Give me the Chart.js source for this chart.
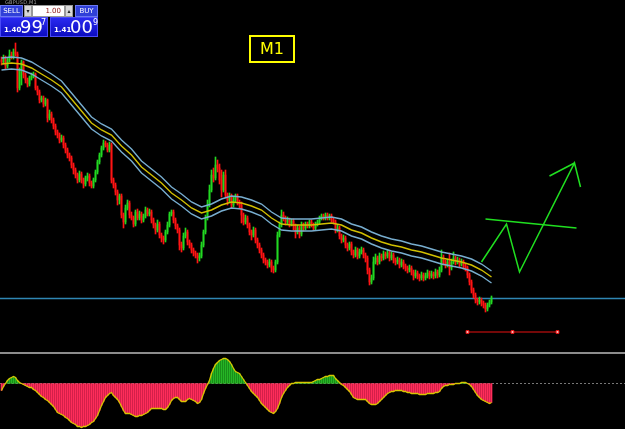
<!DOCTYPE html>
<html><head><meta charset="utf-8">
<script src="https://cdn.jsdelivr.net/npm/chart.js@4/dist/chart.umd.min.js"></script>
<style>
html,body{margin:0;padding:0;background:#000;width:625px;height:429px;overflow:hidden;font-family:"DejaVu Sans",Arial,sans-serif}
#main{position:absolute;left:0;top:0}
#osc{position:absolute;left:0;top:354px}
#sep{position:absolute;left:0;top:352px;width:625px;height:2px;background:#8c8c8c}
#hdr{position:absolute;left:5px;top:-1px;font-size:5px;color:#9a9a9a;letter-spacing:0.2px}
.p{position:absolute;box-sizing:border-box;color:#fff}
.btn{top:5px;height:12px;background:#3040d8;border:1px solid #6a78f0;font-size:7px;line-height:10px;text-align:center}
.spin{top:5px;height:12px;width:8px;background:#d8d8d8;border:1px solid #999;color:#222;font-size:6px;line-height:9px;text-align:center}
.lot{top:5px;left:32px;width:33px;height:12px;background:#fff;border:1px solid #999;color:#8a1010;font-size:7px;line-height:10px;text-align:right;padding-right:3px}
.quote{top:17px;height:20px;width:48px;background:linear-gradient(#2a2af0,#0c0cc0);border:1px solid #4a4af8}
.sm{position:absolute;left:3px;top:8px;font-size:7px;font-weight:bold}
.big{position:absolute;left:19px;top:-2px;font-size:18px}
.sup{position:absolute;left:40px;top:0px;font-size:8px}
#m1{position:absolute;left:249px;top:35px;width:46px;height:28px;box-sizing:border-box;border:2px solid #ffff00;color:#ffff00;font-size:16px;line-height:24px;text-align:center}
</style></head><body>
<canvas id="main" width="625" height="352"></canvas>
<div id="sep"></div>
<canvas id="osc" width="625" height="75"></canvas>
<div id="hdr">GBPUSD,M1</div>
<div class="p btn" style="left:0;width:23px">SELL</div>
<div class="p spin" style="left:24px">▾</div>
<div class="p lot">1.00</div>
<div class="p spin" style="left:65px">▴</div>
<div class="p btn" style="left:75px;width:23px">BUY</div>
<div class="p quote" style="left:0"><span class="sm">1.40</span><span class="big">99</span><span class="sup">7</span></div>
<div class="p quote" style="left:50px"><span class="sm">1.41</span><span class="big">00</span><span class="sup" style="left:42px">9</span></div>
<div id="m1">M1</div>
<script>
// price in points (hidden axis)
const openFirst = 340;
const close = [338,342,334,340,345,343,348,346,312,330,
338,325,320,316,322,324,326,312,308,300,
302,296,300,282,286,280,274,268,265,260,
262,255,250,245,242,235,230,225,220,226,
220,216,222,224,217,214,220,228,238,245,
252,257,255,250,255,220,215,208,200,204,
185,178,192,197,185,182,176,188,182,186,
180,184,190,186,188,180,175,170,176,165,
162,160,168,175,186,188,180,174,170,155,
152,164,168,158,155,150,147,145,142,144,
155,168,182,195,210,225,222,235,232,220,
210,225,205,200,204,195,200,204,198,195,
185,178,182,175,168,165,170,160,155,150,
145,140,138,135,138,132,130,138,165,175,
185,182,178,180,176,179,174,168,172,166,
175,172,176,174,178,175,172,176,178,182,
184,182,185,182,184,180,178,170,172,164,
160,162,155,152,156,148,145,150,144,148,
150,145,142,130,118,122,138,142,138,144,
142,146,144,147,142,145,140,138,140,135,
138,134,132,130,132,128,124,127,124,122,
125,122,124,127,124,126,124,128,125,130,
142,138,135,138,132,138,142,138,140,136,
138,134,132,125,118,110,105,100,98,100,
97,95,91,95,98,102];
const high = [343,345,344,342,350,348,351,357,348,332,
340,339,327,322,324,327,328,327,314,310,
304,304,302,301,290,288,282,276,270,267,
265,264,257,252,247,244,237,232,227,229,
228,222,224,227,226,219,222,230,240,247,
254,260,259,257,258,257,222,217,210,206,
206,187,195,200,199,188,184,190,191,189,
188,186,193,192,191,190,182,177,180,178,
167,164,170,178,188,190,190,182,176,172,
158,167,172,170,160,157,152,149,147,147,
158,170,185,200,215,230,232,243,240,236,
230,228,230,207,207,206,203,206,206,200,
198,187,185,184,177,170,173,172,162,157,
152,147,142,140,141,140,134,140,168,178,
190,188,184,183,182,181,181,176,175,174,
178,177,178,178,180,180,177,178,180,184,
186,186,187,187,186,186,182,180,175,174,
166,165,164,157,158,158,150,153,152,151,
153,152,147,144,132,125,143,146,144,147,
146,149,148,150,149,148,147,142,143,142,
141,140,136,134,135,134,130,130,129,126,
128,127,127,130,129,129,128,131,130,133,
150,145,140,141,147,141,148,144,143,142,
141,140,136,134,127,120,112,107,102,103,
102,99,97,97,100,104];
const low = [335,336,331,332,338,341,341,344,308,310,
315,322,317,313,314,320,322,310,305,297,
298,293,294,278,280,277,271,265,262,257,
258,252,247,242,239,232,226,222,217,218,
217,212,214,219,214,212,212,218,226,236,
243,250,253,248,248,217,212,205,195,196,
182,172,176,190,182,180,173,174,180,180,
177,178,182,184,184,177,172,166,168,162,
158,156,158,166,173,184,177,171,167,150,
148,150,162,155,152,147,144,142,137,139,
142,153,166,180,193,208,218,220,228,216,
203,208,202,195,198,192,193,198,195,192,
177,175,176,172,165,160,163,157,152,147,
142,137,135,132,133,128,127,128,136,163,
173,179,175,176,173,174,170,162,166,162,
164,169,170,172,172,173,170,170,174,176,
180,180,180,180,180,178,176,167,168,161,
157,158,152,149,150,145,142,143,141,142,
146,142,138,126,115,116,120,136,135,136,
139,140,141,142,139,140,137,135,136,132,
133,131,129,127,128,125,120,122,121,119,
120,119,120,122,121,122,121,122,122,123,
128,135,132,133,125,130,136,135,136,133,
134,131,129,122,115,107,102,97,95,96,
94,92,88,89,93,96];
// envelope (every 5 bars)
const bandCenter = [336,337,336,332,326,320,313,301,289,277,270,265,254,245,233,225,217,207,200,192,187,190,195,198,197,194,190,182,176,175,175,175,176,177,175,170,167,162,158,155,153,150,148,145,142,140,138,135,130,123];
const bandUpper = [342,343,342,338,332,326,319,307,295,283,276,271,260,251,239,231,223,213,206,198,193,196,201,204,203,200,196,188,182,181,181,181,182,183,181,176,173,168,164,161,159,156,154,151,148,146,144,141,136,129];
const bandLower = [330,331,330,326,320,314,307,295,283,271,264,259,248,239,227,219,211,201,194,186,181,184,189,192,191,188,184,176,170,169,169,169,170,171,169,164,161,156,152,149,147,144,142,139,136,134,132,129,124,117];
const bandStep = 5;
const bidLevel = 101.5;
// drawn objects (bar index, points)
const zigzag = [[240,138],[252.5,176],[259,128],[286.5,237],[289.5,213]];
const arrowWing = [[274,224],[286.5,237]];
const trendLine = [[242,181],[287.5,172]];
const redLine = [[233,68],[255.5,68],[278,68]];
// oscillator
const osc = [-7,-3,0,3,5,6,7,6,3,1,
0,-1,-2,-3,-4,-4,-6,-7,-9,-11,
-13,-14,-16,-17,-19,-21,-23,-26,-29,-30,
-31,-32,-34,-35,-37,-39,-40,-41,-43,-43,
-44,-43,-43,-42,-41,-39,-38,-35,-32,-27,
-22,-18,-14,-12,-10,-9,-12,-14,-16,-19,
-23,-27,-30,-30,-30,-31,-32,-33,-33,-32,
-32,-31,-30,-29,-27,-25,-25,-25,-25,-25,
-25,-26,-26,-24,-21,-17,-15,-14,-14,-16,
-18,-18,-18,-16,-15,-16,-17,-18,-20,-19,
-16,-10,-5,-1,3,10,15,19,21,23,
24,25,25,24,22,19,15,12,11,10,
7,4,1,-2,-5,-8,-10,-12,-14,-17,
-20,-22,-24,-26,-28,-29,-30,-28,-25,-20,
-14,-10,-7,-4,-2,0,0,1,1,1,
1,1,1,1,1,1,2,3,4,4,
5,6,7,7,8,8,8,5,3,1,
-1,-2,-4,-6,-8,-11,-14,-15,-16,-16,
-16,-16,-16,-18,-20,-21,-21,-21,-20,-18,
-16,-14,-12,-10,-9,-8,-8,-7,-7,-7,
-7,-8,-8,-9,-9,-10,-10,-10,-10,-11,
-11,-11,-11,-10,-10,-10,-10,-9,-9,-8,
-5,-3,-2,-2,-1,-1,-1,0,0,0,
1,1,1,0,-1,-3,-6,-9,-12,-14,
-16,-17,-18,-19,-20,-19];

const XMIN = -0.75, XMAX = 311.75;
const open = close.map((c,i)=> i===0 ? openFirst : close[i-1]);
const UP='#22d822', DOWN='#ff1414', DOJI='#e6e600';
const cColor = close.map((c,i)=> c>open[i]?UP:(c<open[i]?DOWN:DOJI));
const pts = a => a.map(p=>({x:p[0],y:p[1]}));
const band = a => a.map((v,k)=>({x:k*bandStep,y:v}));
const lineDs = (data,color,w,extra) => Object.assign({type:'line',data,borderColor:color,borderWidth:w,pointRadius:0,fill:false,tension:0},extra||{});

new Chart(document.getElementById('main'),{
  type:'bar',
  data:{datasets:[
    lineDs(band(bandUpper),'#78aed0',1.4,{order:0}),
    lineDs(band(bandLower),'#78aed0',1.4,{order:0}),
    lineDs(band(bandCenter),'#d2c000',1.4,{order:0}),
    {type:'bar',data:close.map((c,i)=>({x:i,y:[low[i],high[i]]})),backgroundColor:cColor,barThickness:1,grouped:false,order:2},
    {type:'bar',data:close.map((c,i)=>({x:i,y:[open[i],c]})),backgroundColor:cColor,barThickness:1,grouped:false,order:1},
    lineDs([{x:XMIN,y:bidLevel},{x:XMAX,y:bidLevel}],'#2f86b4',1.5,{order:3}),
    lineDs(pts(zigzag),'#20e020',1.5,{order:0}),
    lineDs(pts(arrowWing),'#20e020',1.5,{order:0}),
    lineDs(pts(trendLine),'#20e020',1.5,{order:0}),
    lineDs(pts(redLine),'#e81010',1.2,{order:0,pointRadius:2,pointStyle:'rect',pointBackgroundColor:'#ffc8c8',pointBorderColor:'#e81010',pointBorderWidth:1})
  ]},
  options:{responsive:false,animation:false,events:[],layout:{padding:0,autoPadding:false},
    plugins:{legend:{display:false},tooltip:{enabled:false}},
    scales:{x:{type:'linear',min:XMIN,max:XMAX,display:false,offset:false},
            y:{type:'linear',min:48,max:400,display:false}}}
});

new Chart(document.getElementById('osc'),{
  type:'bar',
  data:{datasets:[
    lineDs([{x:XMIN,y:0},{x:XMAX,y:0}],'#777777',1,{order:3,borderDash:[2,2]}),
    {type:'bar',data:osc.map((v,i)=>({x:i,y:v})),backgroundColor:osc.map(v=>v>0?'#26b526':'#ff2d5a'),barThickness:1,grouped:false,order:1},
    lineDs(osc.map((v,i)=>({x:i,y:v})),'#d8c800',1.3,{order:0,fill:{target:'origin',above:'#0d5e0d',below:'#a0143a'}})
  ]},
  options:{responsive:false,animation:false,events:[],layout:{padding:0,autoPadding:false},
    plugins:{legend:{display:false},tooltip:{enabled:false},filler:{drawTime:'beforeDatasetsDraw'}},
    scales:{x:{type:'linear',min:XMIN,max:XMAX,display:false,offset:false},
            y:{type:'linear',min:-45.5,max:29.5,display:false}}}
});
</script>
</body></html>
